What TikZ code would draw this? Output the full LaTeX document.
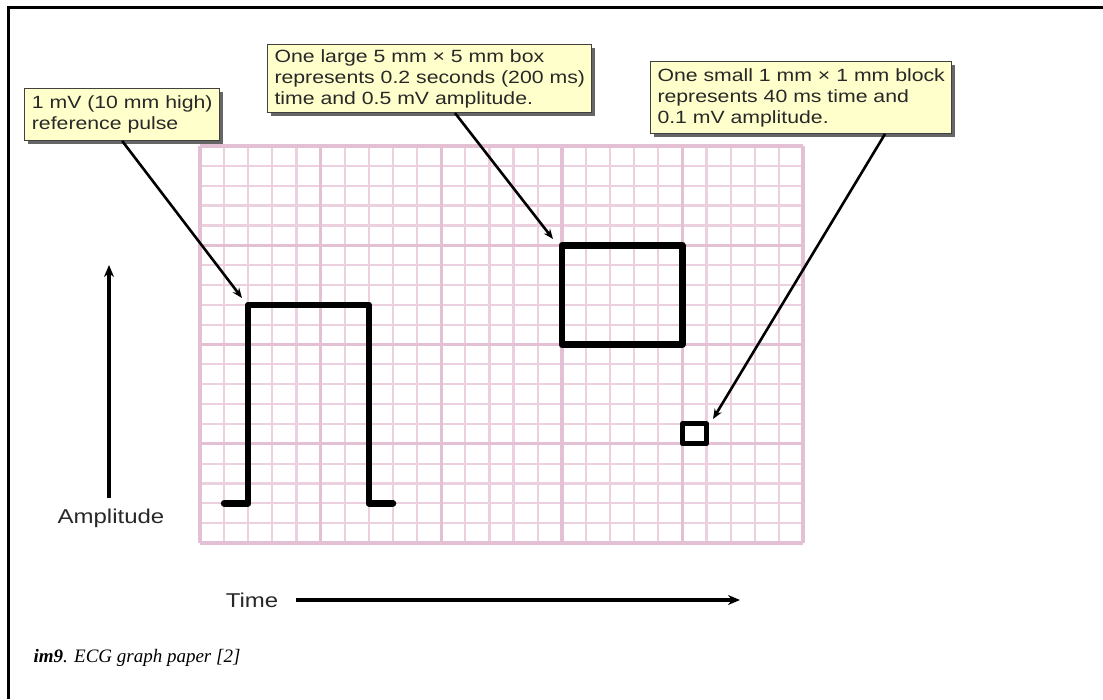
\documentclass[tikz,border=0pt]{standalone}
\usepackage{fontspec}
\setmainfont{Liberation Serif}
\newfontfamily\callfont[FakeStretch=1.2]{Liberation Sans}
\usetikzlibrary{shadows,arrows.meta,calc}
\definecolor{gridminor}{RGB}{236,208,224}
\definecolor{gridmajor}{RGB}{228,192,212}
\definecolor{calloutfill}{RGB}{255,255,204}
\definecolor{txtgray}{RGB}{40,40,40}
\begin{document}
\begin{tikzpicture}[x=1pt,y=-1pt,
  callout/.style={draw=black!75, line width=1pt, fill=calloutfill,
    font=\callfont\fontsize{17.7}{21}\selectfont, text=txtgray, align=left,
    inner xsep=7pt, inner ysep=4.5pt,
    drop shadow={shadow xshift=3pt, shadow yshift=-3pt, fill=black!60, opacity=1}},
  pointer/.style={line width=2.6pt, -{Stealth[length=10pt,width=8pt]}},
  trace/.style={line width=6.5pt, line join=round, line cap=round},
  axisarrow/.style={line width=3.5pt, -{Stealth[length=12pt,width=10pt]}},
  axislabel/.style={font=\callfont\fontsize{20}{22}\selectfont, text=txtgray},
  minorline/.style={draw=gridminor, line width=2.2pt},
  majorline/.style={draw=gridmajor, line width=3.4pt}]
\useasboundingbox (0,0) rectangle (1103,699);
\fill[white] (0,0) rectangle (1103,699);
% frame
\draw[line width=3pt] (8,699) -- (8,7) -- (1103,7);
% grid
\foreach \i in {0,...,25} \draw[minorline] ({200+24.12*\i},146) -- ({200+24.12*\i},543);
\foreach \j in {0,...,20} \draw[minorline] (200,{146+19.85*\j}) -- (803,{146+19.85*\j});
\foreach \i in {0,5,...,25} \draw[majorline] ({200+24.12*\i},146) -- ({200+24.12*\i},543);
\foreach \j in {0,5,...,20} \draw[majorline] (200,{146+19.85*\j}) -- (803,{146+19.85*\j});
% reference pulse
\draw[trace] (224.1,503.3) -- (248.2,503.3) -- (248.2,304.8) -- (368.8,304.8) -- (368.8,503.3) -- (393,503.3);
% large box
\draw[trace] (561.8,245.3) rectangle (682.4,344.5);
% small box
\draw[trace, line width=5pt] (682.4,423.9) rectangle (706.5,443.8);
% pointer tips
\coordinate (tip1) at (242,298);
\coordinate (tip2) at (553,239);
\coordinate (tip3) at (713,419);
% callouts
\node[callout, anchor=north east, minimum height=52pt] (b1) at (220,88)
  {1 mV (10 mm high)\\reference pulse};
\node[callout, anchor=north west, minimum height=68pt] (b2) at (267,44)
  {One large 5 mm × 5 mm box\\represents 0.2 seconds (200 ms)\\time and 0.5 mV amplitude.};
\node[callout, anchor=north west, minimum height=72pt] (b3) at (650,61)
  {One small 1 mm × 1 mm block\\represents 40 ms time and\\0.1 mV amplitude.};
\draw[pointer] (b1.south) -- (tip1);
\draw[pointer] ($(b2.south west)+(188,0)$) -- (tip2);
\draw[pointer] ($(b3.south west)+(235,0)$) -- (tip3);
% axes
\node[axislabel] (amp) at (111,518) {Amplitude};
\coordinate (amptop) at (109,265);
\draw[axisarrow] ($(amp.north)+(-2,-7)$) -- (amptop);
\node[axislabel] (time) at (252,600) {Time};
\coordinate (timeend) at (740,600);
\draw[axisarrow] ($(time.east)+(14,0)$) -- (timeend);
% caption
\node[anchor=base west, font=\fontsize{19}{22}\selectfont] (cap) at (30,662)
  {\textbf{\textit{im9}}\textit{. ECG graph paper [2]}};
\end{tikzpicture}
\end{document}
